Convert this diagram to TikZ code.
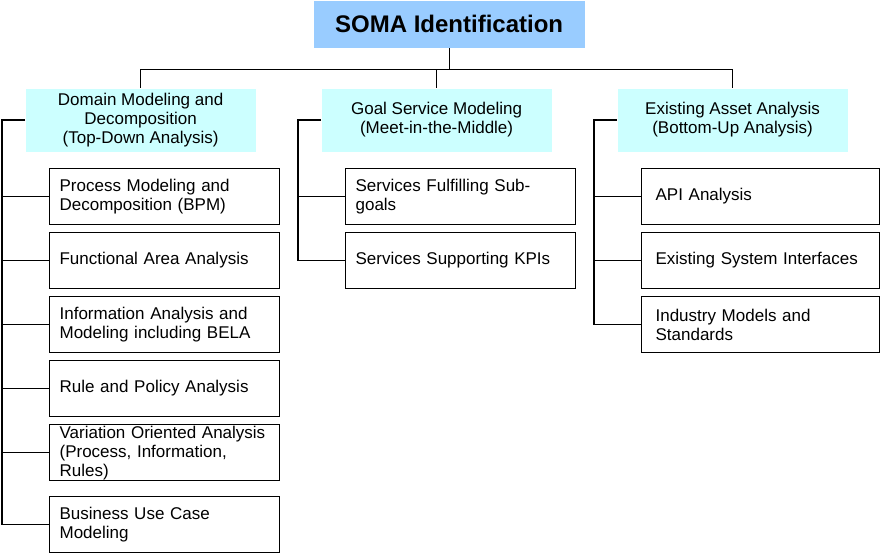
\documentclass[tikz,border=0pt]{standalone}
\usepackage{fontspec}
\setmainfont{Liberation Sans}
\usetikzlibrary{positioning, calc}
\definecolor{somablue}{RGB}{153, 204, 255}
\definecolor{phasecyan}{RGB}{204, 255, 255}

\begin{document}
\begin{tikzpicture}[x=1pt, y=-1pt, line width=1.2pt,
    font=\fontsize{17}{19}\selectfont,
    rootbox/.style={fill=somablue, anchor=north west, minimum width=271pt,
      minimum height=47pt, font=\fontsize{24}{28}\selectfont\bfseries},
    phasebox/.style={fill=phasecyan, anchor=north west, minimum width=230pt,
      minimum height=63pt, align=center, inner sep=0pt},
    taskbox/.style={draw, anchor=north west, text width=210pt, inner xsep=10pt,
      inner ysep=0pt, minimum height=56pt, align=left},
    widebox/.style={taskbox, inner xsep=14pt}]
    \useasboundingbox (0,0) rectangle (880,553);
    % root
    \node[rootbox] (soma) at (313,0) {SOMA Identification};
    % phases
    \node[phasebox] (domain) at (25,88) {Domain Modeling and\\Decomposition\\(Top-Down Analysis)};
    \node[phasebox] (goal) at (321,88) {Goal Service Modeling\\(Meet-in-the-Middle)};
    \node[phasebox] (asset) at (617,88) {Existing Asset Analysis\\(Bottom-Up Analysis)};
    % domain tasks
    \node[taskbox] (dom1) at (49,168) {Process Modeling and\\Decomposition (BPM)};
    \node[taskbox] (dom2) at (49,232) {Functional Area Analysis};
    \node[taskbox] (dom3) at (49,296) {Information Analysis and\\Modeling including BELA};
    \node[taskbox] (dom4) at (49,360) {Rule and Policy Analysis};
    \node[taskbox] (dom5) at (49,424) {Variation Oriented Analysis\\(Process, Information,\\Rules)};
    \node[taskbox] (dom6) at (49,496) {Business Use Case\\Modeling};
    % goal tasks
    \node[taskbox] (goal1) at (345,168) {Services Fulfilling Sub-\\goals};
    \node[taskbox] (goal2) at (345,232) {Services Supporting KPIs};
    % asset tasks
    \node[widebox] (asset1) at (641,168) {API Analysis};
    \node[widebox] (asset2) at (641,232) {Existing System Interfaces};
    \node[widebox] (asset3) at (641,296) {Industry Models and\\Standards};
    % root to phases
    \coordinate (bus) at ($(soma.south)+(0,21)$);
    \draw (soma.south) -- (bus);
    \draw (domain.north) -- (domain.north |- bus) -- (asset.north |- bus) -- (asset.north);
    \draw (goal.north) -- (goal.north |- bus);
    % phases to tasks
    \coordinate (domspine) at ($(domain.west)+(-23,0)$);
    \coordinate (goalspine) at ($(goal.west)+(-23,0)$);
    \coordinate (assetspine) at ($(asset.west)+(-23,0)$);
    \draw (domain.west) -- (domspine) |- (dom6.west);
    \foreach \i in {1,...,5}
      \draw (dom\i.west) -- (dom\i.west -| domspine);
    \draw (goal.west) -- (goalspine) |- (goal2.west);
    \draw (goal1.west) -- (goal1.west -| goalspine);
    \draw (asset.west) -- (assetspine) |- (asset3.west);
    \foreach \i in {1,2}
      \draw (asset\i.west) -- (asset\i.west -| assetspine);
\end{tikzpicture}
\end{document}
